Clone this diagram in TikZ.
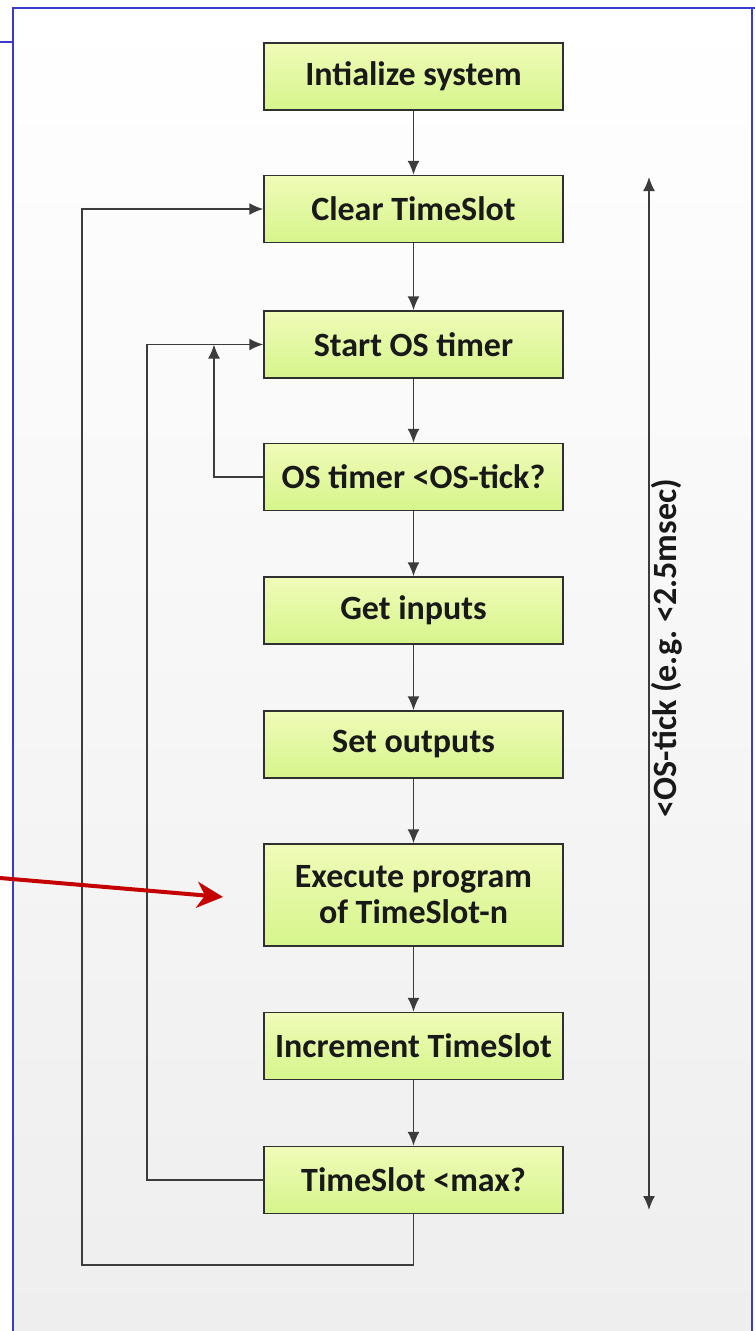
\documentclass[tikz,border=0pt]{standalone}
\usepackage{fontspec}
\setmainfont{Carlito}
\usetikzlibrary{arrows.meta}
\definecolor{frameblue}{RGB}{58,58,204}
\definecolor{boxtop}{RGB}{240,251,184}
\definecolor{boxbot}{RGB}{214,245,140}
\definecolor{linegray}{RGB}{60,60,60}
\definecolor{redarrow}{RGB}{196,0,0}
\definecolor{bgbot}{RGB}{238,238,238}
\frenchspacing
\begin{document}
\begin{tikzpicture}[x=1pt,y=-1pt,
  stepbox/.style={draw=linegray!80!black,line width=1.5pt,top color=boxtop,bottom color=boxbot,
    minimum width=299pt,minimum height=67pt,inner sep=0pt,align=center,
    font=\fontsize{34}{36}\selectfont\bfseries,text=black!90},
  conn/.style={draw=linegray,line width=1.6pt,-{Latex[length=14pt,width=12pt]}},
  plain/.style={draw=linegray,line width=1.6pt}]
\useasboundingbox (0,0) rectangle (755,1331);
% background and frame
\shade[top color=white,bottom color=bgbot] (13,8) rectangle (752,1331);
\draw[frameblue,line width=2pt] (13,1331) -- (13,8) -- (755,8);
\draw[frameblue,line width=2pt] (752,8) -- (752,1331);
\draw[frameblue,line width=2pt] (0,42) -- (13,42);
% boxes
\node[stepbox] (init)  at (413.5,76.5) {Intialize system};
\node[stepbox] (clear) at (413.5,209) {Clear TimeSlot};
\node[stepbox] (start) at (413.5,344.5) {Start OS timer};
\node[stepbox] (ostick) at (413.5,477) {OS timer <OS-tick?};
\node[stepbox] (get)   at (413.5,610.5) {Get inputs};
\node[stepbox] (set)   at (413.5,744.5) {Set outputs};
\node[stepbox,minimum height=102pt] (exec) at (413.5,895) {Execute program\\of TimeSlot-n};
\node[stepbox] (incr)  at (413.5,1046) {Increment TimeSlot};
\node[stepbox] (tsmax) at (413.5,1180) {TimeSlot <max?};
% straight connectors
\draw[conn] (init) -- (clear);
\draw[conn] (clear) -- (start);
\draw[conn] (start) -- (ostick);
\draw[conn] (ostick) -- (get);
\draw[conn] (get) -- (set);
\draw[conn] (set) -- (exec);
\draw[conn] (exec) -- (incr);
\draw[conn] (incr) -- (tsmax);
% loops
\coordinate (osl) at (214,477);
\coordinate (osj) at (214,344.5);
\draw[conn] (ostick.west) -- (osl) -- (osj);
\coordinate (tsl) at (147,1180);
\coordinate (tst) at (147,344.5);
\draw[conn] (tsmax.west) -- (tsl) -- (tst) -- (start.west);
\coordinate (ob1) at (413.5,1265);
\coordinate (ob2) at (82,1265);
\coordinate (ob3) at (82,209);
\draw[conn] (tsmax.south) -- (ob1) -- (ob2) -- (ob3) -- (clear.west);
% timing arrow
\coordinate (ttop) at (649,177);
\coordinate (tbot) at (649,1210);
\draw[draw=linegray,line width=1.6pt,{Latex[length=14pt,width=12pt]}-{Latex[length=14pt,width=12pt]}] (ttop) -- (tbot);
\node[rotate=90,font=\fontsize{34}{36}\selectfont\bfseries,text=black!90,inner sep=0pt] (tlabel) at (667,648) {<OS-tick (e.g. <2.5msec)};
% red pointer
\coordinate (rstart) at (0,878);
\coordinate (rend) at (223,897);
\draw[redarrow,line width=4pt,-{Stealth[length=26pt,width=26pt,inset=8pt]}] (rstart) -- (rend);
\end{tikzpicture}
\end{document}
